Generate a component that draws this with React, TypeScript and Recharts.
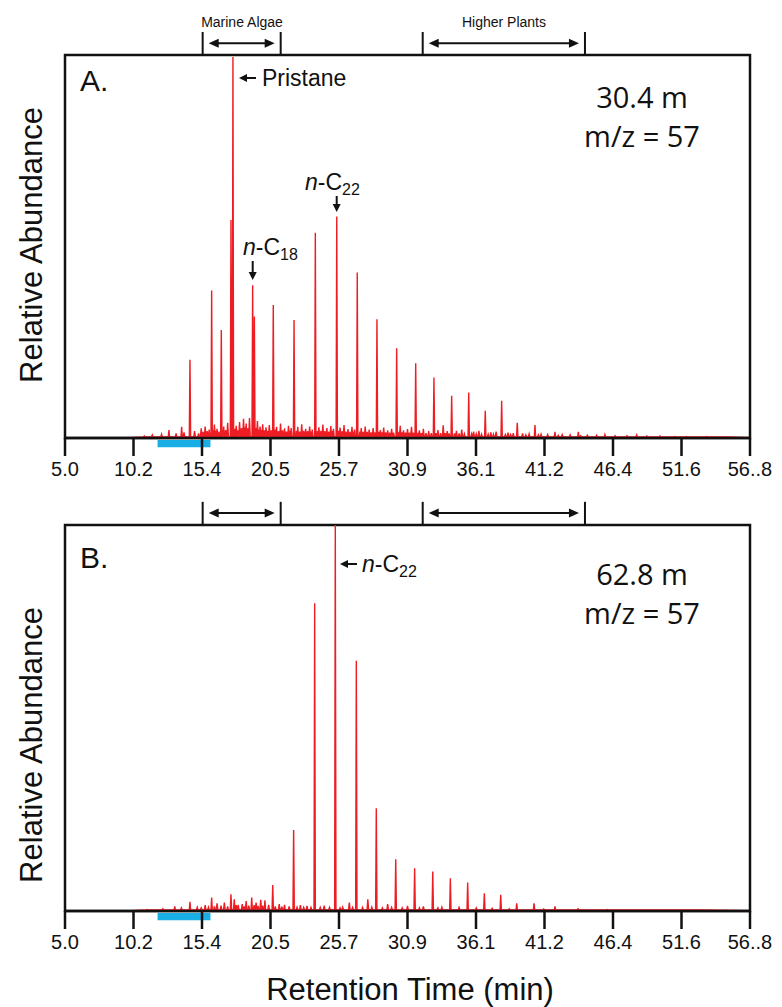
import { LineChart, Line, XAxis, YAxis, ReferenceArea, ReferenceLine } from "recharts";

// retention time axis (min)
const X_MIN = 5.0;
const X_MAX = 56.8;
const TICKS = [5.0, 10.18, 15.36, 20.54, 25.72, 30.9, 36.08, 41.26, 46.44, 51.62, 56.8];
const TICK_LABELS = ["5.0", "10.2", "15.4", "20.5", "25.7", "30.9", "36.1", "41.2", "46.4", "51.6", "56..8"];

const TRACE_START = 9.6;
const SOLVENT_BAR = [12.0, 16.0];
const MARINE_ALGAE = [15.41, 21.31];
const HIGHER_PLANTS = [32.05, 44.32];

// [retention time, relative abundance %]
const topPeaks = [
  [12.86, 2.1], [13.82, 2.9], [14.45, 20.4], [16.09, 38.5], [16.82, 28.2],
  [17.55, 56.9], [17.7, 99.5], [19.19, 39.9], [19.32, 31.7], [20.75, 34.7],
  [22.32, 30.8], [23.93, 53.6], [25.55, 57.8], [27.1, 43.2], [28.59, 31.0],
  [30.08, 23.4], [31.52, 19.5], [32.9, 15.8], [34.24, 11.0], [35.53, 11.9],
  [36.78, 7.1], [38.02, 9.7], [39.2, 4.0], [40.54, 3.4], [42.05, 1.6],
  [43.82, 1.6], [45.83, 0.9], [48.23, 0.8], [51.13, 0.4],
];

const topNoise = [
  [11.0, 0.5], [11.6, 0.8], [12.3, 1.0], [13.4, 1.2], [14.0, 1.5], [14.8, 1.8],
  [15.1, 1.2], [15.3, 2.5], [15.45, 1.6], [15.6, 3.0], [15.75, 1.8], [15.9, 2.2],
  [16.2, 2.0], [16.3, 3.5], [16.4, 1.9], [16.5, 2.4], [16.65, 1.7], [17.0, 3.0],
  [17.15, 2.1], [17.3, 4.0], [17.85, 2.4], [17.95, 3.2], [18.08, 2.0], [18.2, 4.2],
  [18.35, 2.6], [18.5, 5.0], [18.6, 2.8], [18.7, 3.8], [18.82, 2.5], [18.95, 5.2],
  [19.45, 2.6], [19.55, 4.4], [19.65, 2.2], [19.75, 3.0], [19.85, 2.1], [19.95, 3.6],
  [20.08, 2.0], [20.2, 2.8], [20.32, 1.9], [20.45, 3.4], [20.6, 2.0], [20.9, 2.2],
  [21.0, 2.9], [21.15, 1.8], [21.3, 3.8], [21.45, 2.0], [21.6, 2.5], [21.75, 1.7],
  [21.9, 3.2], [22.0, 1.9], [22.1, 2.6], [22.5, 1.8], [22.6, 2.9], [22.75, 1.7],
  [22.9, 3.6], [23.05, 1.9], [23.2, 2.4], [23.35, 1.8], [23.5, 3.0], [23.6, 1.7],
  [23.7, 2.2], [24.1, 1.8], [24.2, 2.8], [24.35, 1.9], [24.5, 3.5], [24.65, 1.8],
  [24.8, 2.6], [24.95, 1.7], [25.1, 3.1], [25.2, 1.8], [25.3, 2.4], [25.7, 1.9],
  [25.8, 2.7], [25.95, 1.8], [26.1, 3.4], [26.25, 1.7], [26.4, 2.3], [26.55, 1.6],
  [26.7, 2.9], [26.8, 1.6], [26.9, 2.2], [27.3, 1.7], [27.4, 2.6], [27.55, 1.6],
  [27.7, 3.0], [27.85, 1.6], [28.0, 2.2], [28.15, 1.5], [28.3, 2.6], [28.45, 1.5],
  [28.75, 1.6], [28.85, 2.1], [28.98, 1.5], [29.1, 2.7], [29.25, 1.5], [29.4, 2.0],
  [29.55, 1.4], [29.7, 2.4], [29.85, 1.4], [30.25, 1.6], [30.35, 3.2], [30.48, 1.5],
  [30.6, 2.0], [30.75, 1.4], [30.9, 2.3], [31.05, 1.4], [31.2, 2.9], [31.35, 1.4],
  [31.7, 1.4], [31.8, 2.0], [31.95, 1.3], [32.1, 2.4], [32.3, 1.3], [32.5, 1.8],
  [32.7, 1.3], [33.05, 1.3], [33.2, 2.1], [33.4, 1.3], [33.6, 3.3], [33.75, 1.3],
  [33.9, 1.8], [34.05, 1.2], [34.45, 1.2], [34.6, 1.9], [34.8, 1.2], [35.0, 2.2],
  [35.2, 1.1], [35.75, 1.1], [35.9, 1.7], [36.1, 1.1], [36.3, 1.9], [36.5, 1.0],
  [37.0, 1.0], [37.2, 1.5], [37.4, 1.0], [37.6, 1.7], [38.3, 0.9], [38.5, 1.4],
  [38.7, 0.9], [38.9, 1.3], [39.6, 1.2], [39.85, 0.8], [40.1, 1.1], [40.8, 0.8],
  [41.0, 1.0], [41.5, 0.9], [42.3, 0.7], [42.6, 0.9], [43.2, 0.8], [44.0, 0.6],
  [44.5, 0.7], [45.2, 0.7], [46.6, 0.6], [47.5, 0.6], [49.0, 0.5], [50.0, 0.5],
  [52.0, 0.4], [53.5, 0.4], [55.0, 0.3],
];

const bottomPeaks = [
  [13.3, 1.2], [14.45, 2.4], [16.09, 3.5], [17.55, 4.3], [19.12, 3.5], [20.12, 2.8],
  [20.71, 6.7], [22.29, 21.0], [23.88, 79.7], [25.44, 100], [27.03, 64.8],
  [28.54, 26.6], [30.01, 13.4], [31.44, 11.1], [32.81, 10.2], [34.14, 8.5],
  [35.45, 7.4], [36.71, 4.6], [37.95, 4.2], [39.16, 2.0], [40.47, 2.0], [42.05, 1.2],
];

const bottomNoise = [
  [11.2, 0.4], [12.4, 0.6], [13.8, 0.8], [15.0, 1.0], [15.3, 0.8], [15.6, 1.5],
  [15.85, 1.0], [16.3, 1.2], [16.5, 2.0], [16.8, 1.4], [17.05, 2.2], [17.3, 1.2],
  [17.8, 3.0], [17.95, 1.5], [18.1, 1.6], [18.4, 1.8], [18.55, 1.2], [18.7, 2.6],
  [18.9, 1.4], [19.3, 1.5], [19.45, 2.2], [19.6, 1.3], [19.8, 2.9], [19.95, 1.4],
  [20.4, 1.6], [20.9, 1.2], [21.2, 1.8], [21.4, 1.1], [21.6, 1.6], [21.95, 1.2],
  [22.55, 1.0], [22.8, 1.5], [23.05, 0.9], [23.3, 1.3], [23.6, 0.9], [24.3, 0.9],
  [24.6, 1.4], [25.0, 0.9], [25.8, 0.8], [26.0, 1.0], [26.5, 2.2], [26.75, 0.9],
  [27.5, 0.9], [27.9, 3.0], [28.2, 1.0], [29.0, 0.8], [29.4, 1.8], [29.7, 0.9],
  [30.5, 0.8], [30.9, 1.3], [31.8, 0.8], [32.1, 1.2], [33.2, 0.8], [33.5, 1.0],
  [34.8, 0.9], [36.1, 0.8], [37.3, 0.7], [38.6, 0.6], [41.2, 0.5], [43.8, 0.6],
  [46.0, 0.4], [49.5, 0.3], [53.0, 0.3],
];

function buildTrace(peaks: number[][], noise: number[][]) {
  const bumps = [
    ...peaks.map(([t, h]) => ({ t, h, w: 0.05 })),
    ...noise.map(([t, h]) => ({ t, h, w: 0.06 })),
  ].sort((a, b) => a.t - b.t);
  const pts = [{ t: TRACE_START, v: 0 }];
  bumps.forEach((b) => {
    pts.push({ t: b.t - b.w, v: 0.3 }, { t: b.t, v: b.h }, { t: b.t + b.w, v: 0.3 });
  });
  pts.push({ t: X_MAX, v: 0.1 });
  return pts;
}

const topData = buildTrace(topPeaks, topNoise);
const bottomData = buildTrace(bottomPeaks, bottomNoise);

const INK = "#111";
const RED = "#ee1d23";
const SANS = "'Liberation Sans', Arial, sans-serif";
const MYRIAD = "'Open Sans', sans-serif";

// horizontal double-headed arrow, inset from the bracket lines
function DoubleArrow(props: any) {
  const { x1, x2, y1 } = props;
  const a = Math.min(x1, x2) + 6;
  const b = Math.max(x1, x2) - 6;
  return (
    <g>
      <line x1={a + 4} y1={y1} x2={b - 4} y2={y1} stroke={INK} strokeWidth={2} />
      <polygon points={`${a},${y1} ${a + 10},${y1 - 4.5} ${a + 10},${y1 + 4.5}`} fill={INK} />
      <polygon points={`${b},${y1} ${b - 10},${y1 - 4.5} ${b - 10},${y1 + 4.5}`} fill={INK} />
    </g>
  );
}

function TimeTick(props: any) {
  const { x, y, payload, index } = props;
  return (
    <text x={x} y={y} dy={15} textAnchor="middle" fontSize={20} fontFamily={SANS} fill={INK}>
      {TICK_LABELS[index] ?? payload.value}
    </text>
  );
}

function Panel({ data, top, height }: { data: { t: number; v: number }[]; top: number; height: number }) {
  const brackets = [MARINE_ALGAE, HIGHER_PLANTS];
  return (
    <div style={{ position: "absolute", left: 0, top }}>
      <LineChart width={782} height={height} data={data} margin={{ top: 55, right: 32, left: 65, bottom: 0 }}>
        <XAxis
          type="number"
          dataKey="t"
          domain={[X_MIN, X_MAX]}
          ticks={TICKS}
          interval={0}
          allowDataOverflow
          height={52}
          tickSize={18}
          tickMargin={5}
          tick={<TimeTick />}
          tickLine={{ stroke: INK, strokeWidth: 2.5 }}
          axisLine={{ stroke: INK, strokeWidth: 2.5 }}
        />
        <YAxis hide type="number" domain={[0, 100]} allowDataOverflow />
        <Line type="linear" dataKey="v" stroke={RED} strokeWidth={1.4} dot={false} isAnimationActive={false} />
        <ReferenceArea
          x1={X_MIN}
          x2={X_MAX}
          y1={0}
          y2={100}
          fill="none"
          fillOpacity={0}
          stroke={INK}
          strokeWidth={2.5}
          ifOverflow="visible"
        />
        <ReferenceArea
          x1={SOLVENT_BAR[0]}
          x2={SOLVENT_BAR[1]}
          y1={-2.4}
          y2={-0.5}
          fill="#19aee6"
          fillOpacity={1}
          ifOverflow="visible"
        />
        {brackets.map((r, i) => (
          <ReferenceLine key={"a" + i} segment={[{ x: r[0], y: 100 }, { x: r[0], y: 106 }]} stroke={INK} strokeWidth={2} ifOverflow="visible" />
        ))}
        {brackets.map((r, i) => (
          <ReferenceLine key={"b" + i} segment={[{ x: r[1], y: 100 }, { x: r[1], y: 106 }]} stroke={INK} strokeWidth={2} ifOverflow="visible" />
        ))}
        {brackets.map((r, i) => (
          <ReferenceLine
            key={"c" + i}
            segment={[{ x: r[0], y: 103.1 }, { x: r[1], y: 103.1 }]}
            ifOverflow="visible"
            shape={(p: any) => <DoubleArrow {...p} />}
          />
        ))}
      </LineChart>
    </div>
  );
}

function ArrowLeft({ x, y, len }: { x: number; y: number; len: number }) {
  return (
    <g>
      <line x1={x + 5} y1={y} x2={x + len} y2={y} stroke={INK} strokeWidth={2} />
      <polygon points={`${x},${y} ${x + 8},${y - 4} ${x + 8},${y + 4}`} fill={INK} />
    </g>
  );
}

function ArrowDown({ x, y, len }: { x: number; y: number; len: number }) {
  return (
    <g>
      <line x1={x} y1={y} x2={x} y2={y + len - 5} stroke={INK} strokeWidth={2} />
      <polygon points={`${x},${y + len} ${x - 4},${y + len - 8} ${x + 4},${y + len - 8}`} fill={INK} />
    </g>
  );
}

function NC({ x, y, sub }: { x: number; y: number; sub: string }) {
  return (
    <text x={x} y={y} fontSize={23} fontFamily={SANS} fill={INK}>
      <tspan fontStyle="italic">n</tspan>
      <tspan>-C</tspan>
      <tspan fontSize={16} dy={5}>{sub}</tspan>
    </text>
  );
}

export default function App() {
  return (
    <div style={{ position: "absolute", left: 0, top: 0, width: 782, height: 1007, background: "#fff" }}>
      <Panel data={topData} top={0} height={490} />
      <Panel data={bottomData} top={470} height={493} />
      <svg width={782} height={1007} style={{ position: "absolute", left: 0, top: 0, pointerEvents: "none" }}>
        {/* bracket captions */}
        <text x={242} y={27} textAnchor="middle" fontSize={14} fontFamily={SANS} fill={INK}>Marine Algae</text>
        <text x={504} y={27} textAnchor="middle" fontSize={14} fontFamily={SANS} fill={INK}>Higher Plants</text>

        {/* panel A */}
        <text x={80} y={91} fontSize={30} fontFamily={SANS} fill={INK}>A.</text>
        <ArrowLeft x={239} y={78} len={17} />
        <text x={262} y={86} fontSize={23} fontFamily={SANS} fill={INK}>Pristane</text>
        <NC x={305} y={190} sub="22" />
        <ArrowDown x={336.7} y={196} len={16} />
        <NC x={243} y={255} sub="18" />
        <ArrowDown x={252.7} y={261} len={19} />
        <text x={642} y={108} textAnchor="middle" fontSize={29} fontFamily={MYRIAD} fill={INK}>30.4 m</text>
        <text x={642} y={147} textAnchor="middle" fontSize={29} fontFamily={MYRIAD} fill={INK}>m/z = 57</text>

        {/* panel B */}
        <text x={80} y={568} fontSize={30} fontFamily={SANS} fill={INK}>B.</text>
        <ArrowLeft x={340} y={564} len={17} />
        <NC x={362} y={572} sub="22" />
        <text x={642} y={585} textAnchor="middle" fontSize={29} fontFamily={MYRIAD} fill={INK}>62.8 m</text>
        <text x={642} y={624} textAnchor="middle" fontSize={29} fontFamily={MYRIAD} fill={INK}>m/z = 57</text>

        {/* axis titles */}
        <text x={31} y={245} transform="rotate(-90 31 245)" textAnchor="middle" dominantBaseline="central" fontSize={31} fontFamily={SANS} fill={INK}>Relative Abundance</text>
        <text x={31} y={745} transform="rotate(-90 31 745)" textAnchor="middle" dominantBaseline="central" fontSize={31} fontFamily={SANS} fill={INK}>Relative Abundance</text>
        <text x={410} y={989} textAnchor="middle" dominantBaseline="central" fontSize={31} fontFamily={SANS} fill={INK}>Retention Time (min)</text>
      </svg>
    </div>
  );
}
